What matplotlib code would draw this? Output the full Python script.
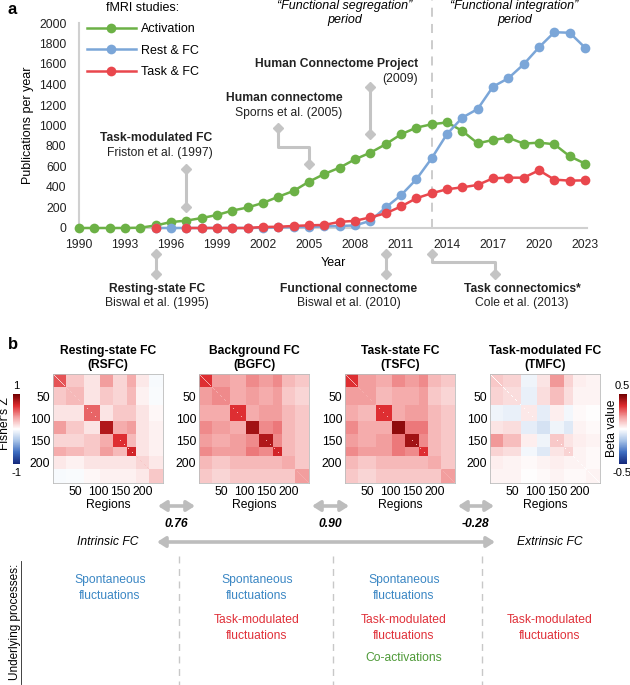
import numpy as np
import matplotlib
matplotlib.use('Agg')
import matplotlib.pyplot as plt
from matplotlib.colors import LinearSegmentedColormap

plt.rcParams['font.family'] = ['Liberation Sans', 'DejaVu Sans']
plt.rcParams['font.size'] = 8.7

nan = np.nan

# ---- panel a data (publications per year) ----
years = list(range(1990, 2024))
activation = [0, 0, 0, 0, 3, 25, 58, 72, 97, 127, 170, 200, 245, 305, 362, 452, 527,
              589, 670, 735, 817, 914, 979, 1012, 1030, 947, 826, 859, 881, 823, 833,
              817, 700, 628]
rest_fc = [nan, nan, nan, nan, nan, 0, 0, 0, 0, 0, 0, 0, 3, 5, 8, 10, 15, 20, 25, 70,
           200, 320, 475, 680, 917, 1077, 1161, 1379, 1461, 1597, 1763, 1910, 1905, 1760]
task_fc = [nan, nan, nan, nan, nan, 0, nan, 0, 0, 0, 0, 0, 10, 12, 20, 26, 30, 60, 70,
           104, 143, 210, 290, 339, 378, 397, 420, 485, 491, 491, 563, 472, 462, 465]
series_names = ['Activation', 'Rest & FC', 'Task & FC']
series_colors = ['#6cb146', '#7ba6d8', '#e9474d']

# ---- panel b data (network block FC values) ----
net_edges = [0, 30, 70, 105, 135, 165, 185, 215, 246]
rsfc_blocks = [
    [0.55, 0.20, 0.10, 0.35, 0.15, 0.30, 0.08, -0.03],
    [0.20, 0.25, 0.10, 0.20, 0.15, 0.25, 0.05, -0.02],
    [0.10, 0.10, 0.50, 0.10, 0.20, 0.20, 0.10, 0.03],
    [0.35, 0.20, 0.10, 0.80, 0.30, 0.35, 0.10, 0.05],
    [0.15, 0.15, 0.20, 0.30, 0.65, 0.25, 0.10, 0.05],
    [0.30, 0.25, 0.20, 0.35, 0.25, 0.70, 0.10, 0.05],
    [0.08, 0.05, 0.10, 0.10, 0.10, 0.10, 0.15, 0.08],
    [-0.03, -0.02, 0.03, 0.05, 0.05, 0.05, 0.08, 0.20]]
bgfc_blocks = [
    [0.65, 0.35, 0.30, 0.40, 0.35, 0.40, 0.25, 0.20],
    [0.35, 0.40, 0.30, 0.35, 0.30, 0.35, 0.20, 0.15],
    [0.30, 0.30, 0.65, 0.30, 0.35, 0.35, 0.25, 0.20],
    [0.40, 0.35, 0.30, 0.85, 0.40, 0.45, 0.25, 0.20],
    [0.35, 0.30, 0.35, 0.40, 0.80, 0.40, 0.25, 0.20],
    [0.40, 0.35, 0.35, 0.45, 0.40, 0.70, 0.25, 0.20],
    [0.25, 0.20, 0.25, 0.25, 0.25, 0.25, 0.30, 0.20],
    [0.20, 0.15, 0.20, 0.20, 0.20, 0.20, 0.20, 0.35]]
tsfc_blocks = [
    [0.65, 0.35, 0.30, 0.40, 0.35, 0.40, 0.25, 0.20],
    [0.35, 0.35, 0.25, 0.30, 0.30, 0.35, 0.20, 0.15],
    [0.30, 0.25, 0.65, 0.30, 0.35, 0.35, 0.25, 0.20],
    [0.40, 0.30, 0.30, 0.90, 0.45, 0.45, 0.25, 0.20],
    [0.35, 0.30, 0.35, 0.45, 0.85, 0.40, 0.25, 0.20],
    [0.40, 0.35, 0.35, 0.45, 0.40, 0.65, 0.25, 0.20],
    [0.25, 0.20, 0.25, 0.25, 0.25, 0.25, 0.30, 0.20],
    [0.20, 0.15, 0.20, 0.20, 0.20, 0.20, 0.20, 0.35]]
tmfc_blocks = [
    [0.10, 0.08, -0.03, 0.05, 0.18, 0.08, 0.03, 0.02],
    [0.08, 0.06, -0.04, 0.06, 0.12, 0.06, 0.02, 0.02],
    [-0.03, -0.04, 0.04, -0.05, 0.03, -0.02, 0.01, 0.00],
    [0.05, 0.06, -0.05, -0.08, -0.03, -0.06, 0.02, 0.01],
    [0.18, 0.12, 0.03, -0.03, 0.10, 0.05, 0.03, 0.02],
    [0.08, 0.06, -0.02, -0.06, 0.05, 0.08, 0.02, 0.01],
    [0.03, 0.02, 0.01, 0.02, 0.03, 0.02, 0.02, 0.01],
    [0.02, 0.02, 0.00, 0.01, 0.02, 0.01, 0.01, 0.02]]
fc_titles = ['Resting-state FC\n(RSFC)', 'Background FC\n(BGFC)',
             'Task-state FC\n(TSFC)', 'Task-modulated FC\n(TMFC)']
similarity = ['0.76', '0.90', '-0.28']

fc_cmap = LinearSegmentedColormap.from_list(
    'fc', ['#13277a', '#3c6cc0', '#a9c4e8', '#ffffff', '#f4a4a4', '#de2a2e', '#700000'])


def block_matrix(blocks, diag):
    sizes = np.diff(net_edges)
    m = np.repeat(np.repeat(np.array(blocks), sizes, axis=0), sizes, axis=1)
    np.fill_diagonal(m, diag)
    return m


fig = plt.figure(figsize=(6.3, 6.85), dpi=100)
gray = '#c4c4c4'

# ================= panel a =================
ax = fig.add_axes([79 / 630, 1 - 228 / 685, 508 / 630, 205 / 685])
for vals, name, col in zip([activation, rest_fc, task_fc], series_names, series_colors):
    ax.plot(years, vals, '-o', color=col, lw=1.8, ms=7, mew=0, label=name, clip_on=False, zorder=3)
ax.set_xlim(1990, 2023.13)
ax.set_ylim(0, 2000)
ax.set_xticks(range(1990, 2024, 3))
ax.set_yticks(range(0, 2001, 200))
ax.tick_params(length=0, labelsize=8.7, colors='#222222')
ax.tick_params(axis='y', pad=9)
ax.tick_params(axis='x', pad=8)
for s in ['top', 'right']:
    ax.spines[s].set_visible(False)
for s in ['left', 'bottom']:
    ax.spines[s].set_color('#d0d0d0')
    ax.spines[s].set_linewidth(1.5)
ax.set_xlabel('Year', fontsize=9, labelpad=4)
ax.set_ylabel('Publications per year', fontsize=9, labelpad=4)

ax.legend(title='fMRI studies:', loc='upper left', bbox_to_anchor=(87 / 630, 1 - 2 / 685),
          bbox_transform=fig.transFigure, frameon=False, fontsize=9, title_fontsize=9,
          handlelength=3.9, handletextpad=0.4, labelspacing=0.75, borderpad=0, borderaxespad=0)

ax.axvline(2013, ymin=0, ymax=1.11, color='#c8c8c8', ls=(0, (5, 4)), lw=1.3, clip_on=False, zorder=1)
ax.text(2007.3, 2166, '\u201cFunctional segregation\u201d', ha='center', va='center', style='italic', fontsize=9)
ax.text(2007.3, 2029, 'period', ha='center', va='center', style='italic', fontsize=9)
ax.text(2018.4, 2166, '\u201cFunctional integration\u201d', ha='center', va='center', style='italic', fontsize=9)
ax.text(2018.4, 2029, 'period', ha='center', va='center', style='italic', fontsize=9)


def connector(xs, ys):
    ax.plot(xs, ys, color=gray, lw=2.2, clip_on=False, zorder=2, solid_capstyle='butt')
    ax.plot([xs[0], xs[-1]], [ys[0], ys[-1]], 'D', color=gray, ms=5.5, clip_on=False, zorder=2)


connector([1997, 1997], [576, 205])
connector([2003, 2003, 2005, 2005], [976, 790, 790, 624])
connector([2009, 2009], [1376, 917])
connector([1995, 1995], [-254, -449])
connector([2010, 2010], [-254, -449])
connector([2013, 2013, 2017.1, 2017.1], [-254, -332, -332, -449])

notes = [(1998.7, 878, 732, 'right', 'Task-modulated FC', 'Friston et al. (1997)'),
         (2007.2, 1268, 1122, 'right', 'Human connectome', 'Sporns et al. (2005)'),
         (2012.1, 1600, 1454, 'right', 'Human Connectome Project', '(2009)'),
         (1995.1, -595, -732, 'center', 'Resting-state FC', 'Biswal et al. (1995)'),
         (2007.6, -595, -732, 'center', 'Functional connectome', 'Biswal et al. (2010)'),
         (2018.9, -595, -732, 'center', 'Task connectomics*', 'Cole et al. (2013)')]
for x, y1, y2, ha, bold, normal in notes:
    ax.text(x, y1, bold, ha=ha, va='center', fontweight='bold', fontsize=8.7, color='#222222')
    ax.text(x, y2, normal, ha=ha, va='center', fontsize=8.7, color='#222222')

# ================= panel b =================
mats = [block_matrix(rsfc_blocks, 0.2), block_matrix(bgfc_blocks, 0.3),
        block_matrix(tsfc_blocks, 0.3), block_matrix(tmfc_blocks, 0.0)]
lefts = [53, 199, 345, 490]
for i, (m, title, left) in enumerate(zip(mats, fc_titles, lefts)):
    hax = fig.add_axes([left / 630, 1 - 483 / 685, 110 / 630, 109 / 685])
    lim = 0.5 if i == 3 else 1.0
    im = hax.imshow(m, cmap=fc_cmap, vmin=-lim, vmax=lim, aspect='auto', interpolation='nearest')
    hax.set_xticks([50, 100, 150, 200])
    hax.set_yticks([50, 100, 150, 200])
    hax.tick_params(length=0, pad=2, labelsize=8.7)
    hax.set_xlabel('Regions', fontsize=8.7, labelpad=1)
    hax.set_title(title, fontweight='bold', fontsize=8.7, pad=4, linespacing=1.25)
    for s in hax.spines.values():
        s.set_color('#bbbbbb')
        s.set_linewidth(0.6)
    if i == 0:
        cax = fig.add_axes([13 / 630, 1 - 464 / 685, 7 / 630, 70 / 685])
        cb = fig.colorbar(im, cax=cax)
        cb.set_ticks([])
        cb.outline.set_visible(False)
    if i == 3:
        cax2 = fig.add_axes([619 / 630, 1 - 464 / 685, 8 / 630, 70 / 685])
        cb2 = fig.colorbar(im, cax=cax2)
        cb2.set_ticks([])
        cb2.outline.set_visible(False)

# overlay in pixel coordinates for labels and arrows
ov = fig.add_axes([0, 0, 1, 1], zorder=-1)
ov.set_xlim(0, 630)
ov.set_ylim(685, 0)
ov.axis('off')

ov.text(12, 9, 'a', fontweight='bold', fontsize=12, ha='center', va='center')
ov.text(13, 344, 'b', fontweight='bold', fontsize=12, ha='center', va='center')

ov.text(16.5, 386, '1', ha='center', va='center', fontsize=8)
ov.text(16.5, 473, '-1', ha='center', va='center', fontsize=8)
ov.text(5, 424, "Fisher's Z", rotation=90, ha='center', va='center', fontsize=8.7)
ov.text(622, 386, '0.5', ha='center', va='center', fontsize=8)
ov.text(622, 473, '-0.5', ha='center', va='center', fontsize=8)
ov.text(612, 428, 'Beta value', rotation=90, ha='center', va='center', fontsize=8.7)

arrow_style = dict(arrowstyle='<|-|>,head_length=0.55,head_width=0.35', color='#bdbdbd',
                   lw=2.6, shrinkA=0, shrinkB=0)
for (x0, x1), val in zip([(158, 195), (312, 349), (458, 494)], similarity):
    ov.annotate('', xy=(x1, 506), xytext=(x0, 506), arrowprops=arrow_style)
    ov.text((x0 + x1) / 2 - 0.5, 524, val, ha='center', va='center', fontweight='bold',
            style='italic', fontsize=8.7)
ov.annotate('', xy=(495, 542), xytext=(157, 542), arrowprops=arrow_style)
ov.text(108, 542, 'Intrinsic FC', ha='center', va='center', style='italic', fontsize=8.7)
ov.text(550, 542, 'Extrinsic FC', ha='center', va='center', style='italic', fontsize=8.7)

for x in [179, 333, 482]:
    ov.plot([x, x], [556, 685], color='#c8c8c8', lw=1, ls=(0, (5, 4)))

ov.text(15.5, 622, 'Underlying processes:', rotation=90, ha='center', va='center', fontsize=8.5)
ov.plot([21, 21], [561, 684], color='#222222', lw=0.6)

blue_t, red_t, green_t = '#3b87c4', '#e0313a', '#4f9a39'
for x in [110, 257, 404]:
    ov.text(x, 588, 'Spontaneous\nfluctuations', ha='center', va='center', color=blue_t,
            fontsize=8.7, linespacing=1.35)
for x in [257, 404, 550]:
    ov.text(x, 628, 'Task-modulated\nfluctuations', ha='center', va='center', color=red_t,
            fontsize=8.7, linespacing=1.35)
ov.text(404, 658, 'Co-activations', ha='center', va='center', color=green_t, fontsize=8.7)

fig.savefig('out.png', dpi=100)
